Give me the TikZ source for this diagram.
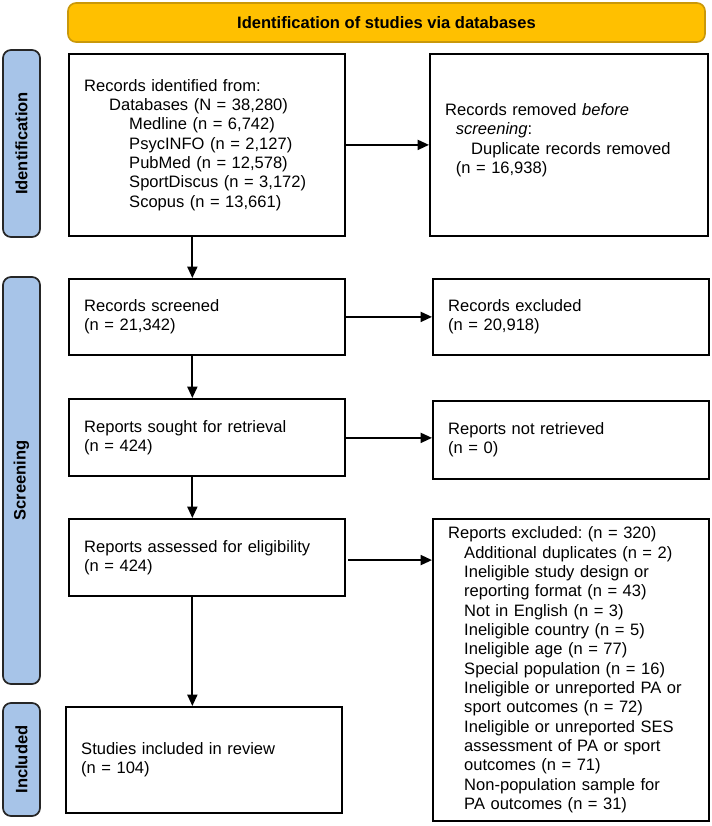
\documentclass[tikz,border=0pt]{standalone}
\usepackage{fontspec}
\setmainfont{Liberation Sans}
\usetikzlibrary{arrows.meta}
\frenchspacing
\definecolor{bannerfill}{HTML}{FFC000}
\definecolor{bannerline}{HTML}{C9980A}
\definecolor{tabfill}{HTML}{A7C4E8}
\definecolor{tabline}{HTML}{262626}
\begin{document}
\frenchspacing
\begin{tikzpicture}[x=0.75pt,y=-0.75pt,
  box/.style={draw=black, line width=1.35pt, align=left, text width=184pt,
    inner xsep=11.5pt, inner ysep=0pt, minimum width=207pt, anchor=north west,
    font=\fontsize{12.4}{14.5}\selectfont},
  tab/.style={draw=tabline, fill=tabfill, line width=1.3pt, rounded corners=6pt,
    minimum width=27.75pt, inner sep=0pt},
  tablabel/.style={rotate=90, font=\fontsize{12.4}{14.5}\selectfont\bfseries},
  arr/.style={line width=1.35pt, -{Triangle[length=8.5pt,width=7.5pt]}}]
\useasboundingbox (0,0) rectangle (712,826);

% banner
\node[draw=bannerline, fill=bannerfill, line width=1.2pt, rounded corners=6pt,
  minimum width=477.75pt, minimum height=29.25pt, inner sep=0pt,
  font=\fontsize{12.4}{14.5}\selectfont\bfseries] (banner) at (386.5,22.5)
  {Identification of studies via databases};

% side tabs
\node[tab, minimum height=140.25pt] (tabid) at (21.5,143.5) {};
\node[tablabel] (tabidl) at (tabid.center) {Identification};
\node[tab, minimum height=305.25pt] (tabscr) at (21.5,480.5) {};
\node[tablabel] (tabscrl) at (tabscr.center) {Screening};
\node[tab, minimum height=84.75pt] (tabinc) at (21.5,759.5) {};
\node[tablabel] (tabincl) at (tabinc.center) {Included};

% boxes
\node[box, minimum height=136.5pt] (id) at (68,53) {Records identified from:\\
\hspace*{18.75pt}Databases (N = 38,280)\\
\hspace*{33.75pt}Medline (n = 6,742)\\
\hspace*{33.75pt}PsycINFO (n = 2,127)\\
\hspace*{33.75pt}PubMed (n = 12,578)\\
\hspace*{33.75pt}SportDiscus (n = 3,172)\\
\hspace*{33.75pt}Scopus (n = 13,661)};

\node[box, minimum height=136.5pt, minimum width=208.5pt, text width=185.5pt] (rem) at (429,53)
{Records removed \textit{before}\\
\hspace*{8pt}\textit{screening}:\\
\hspace*{19.5pt}Duplicate records removed\\
\hspace*{8pt}(n = 16,938)\\[-5pt]\mbox{}};

\node[box, minimum height=57pt] (scr) at (68,278) {Records screened\\(n = 21,342)};
\node[box, minimum height=57pt] (exc) at (432,278) {Records excluded\\(n = 20,918)};

\node[box, minimum height=57.75pt] (sought) at (68,398) {Reports sought for retrieval\\(n = 424)};
\node[box, minimum height=58.5pt] (nret) at (432,400) {Reports not retrieved\\(n = 0)};

\node[box, minimum height=57.75pt] (ass) at (68,518) {Reports assessed for eligibility\\(n = 424)};
\node[box, minimum height=226.5pt] (rex) at (432,518) {Reports excluded: (n = 320)\\
\hspace*{12pt}Additional duplicates (n = 2)\\
\hspace*{12pt}Ineligible study design or\\
\hspace*{12pt}reporting format (n = 43)\\
\hspace*{12pt}Not in English (n = 3)\\
\hspace*{12pt}Ineligible country (n = 5)\\
\hspace*{12pt}Ineligible age (n = 77)\\
\hspace*{12pt}Special population (n = 16)\\
\hspace*{12pt}Ineligible or unreported PA or\\
\hspace*{12pt}sport outcomes (n = 72)\\
\hspace*{12pt}Ineligible or unreported SES\\
\hspace*{12pt}assessment of PA or sport\\
\hspace*{12pt}outcomes (n = 71)\\
\hspace*{12pt}Non-population sample for\\
\hspace*{12pt}PA outcomes (n = 31)};

\node[box, minimum height=79.5pt] (inc) at (65,706) {Studies included in review\\(n = 104)};

% arrows
\draw[arr] ([xshift=-10.9pt]id.south) -- ([xshift=-10.9pt]id.south |- scr.north);
\draw[arr] ([xshift=-10.9pt]scr.south) -- ([xshift=-10.9pt]scr.south |- sought.north);
\draw[arr] ([xshift=-10.9pt]sought.south) -- ([xshift=-10.9pt]sought.south |- ass.north);
\draw[arr] ([xshift=-10.9pt]ass.south) -- ([xshift=-10.9pt]ass.south |- inc.north);
\draw[arr] (id.east) -- (rem.west);
\draw[arr] (scr.east) -- (exc.west);
\draw[arr] ([yshift=-0.375pt]sought.east) -- ([yshift=-0.375pt]sought.east -| nret.west);
\draw[arr, shorten <=2pt] ([yshift=-2pt]ass.east) -- ([yshift=-2pt]ass.east -| rex.west);
\end{tikzpicture}
\end{document}
